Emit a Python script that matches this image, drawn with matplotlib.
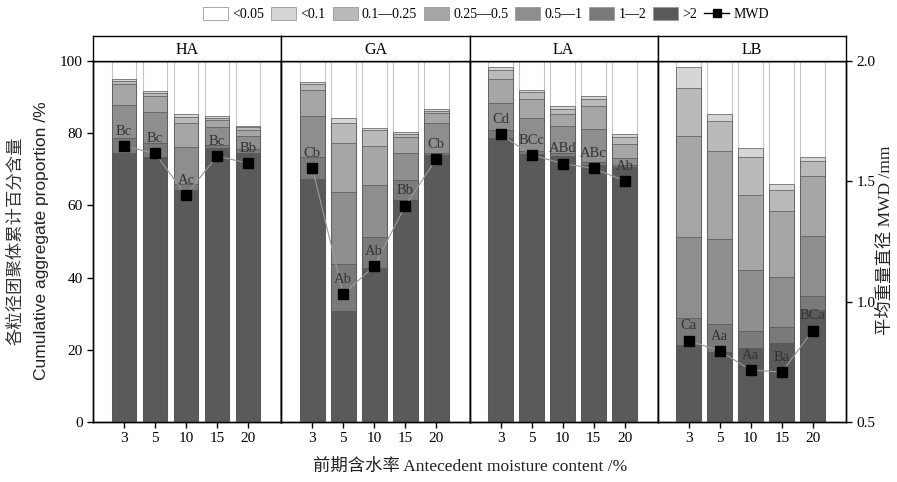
import matplotlib
matplotlib.use('Agg')
import matplotlib.pyplot as plt
from matplotlib.patches import Patch
from matplotlib.lines import Line2D

plt.rcParams['font.family'] = ['Liberation Serif', 'Noto Sans CJK SC']
plt.rcParams['axes.unicode_minus'] = False

# 数据：4个样地 x 5个前期含水率，每层为累计百分比的上边界
sites = ['HA', 'GA', 'LA', 'LB']
moisture = ['3', '5', '10', '15', '20']

top_lt01 = [95.0, 91.6, 85.3, 84.9, 82.1,
            94.1, 84.3, 81.5, 80.2, 86.7,
            98.3, 92.1, 87.5, 90.4, 79.8,
            98.2, 85.3, 75.8, 65.9, 73.5]
top_01_025 = [94.5, 91.1, 84.6, 84.3, 81.6,
              93.5, 82.7, 80.9, 79.8, 86.2,
              97.5, 91.3, 86.7, 89.6, 79.0,
              92.4, 83.5, 73.3, 64.4, 72.3]
top_025_05 = [93.5, 90.4, 82.7, 83.7, 80.9,
              92.1, 77.2, 76.5, 79.0, 85.5,
              94.9, 89.4, 85.3, 87.5, 76.9,
              79.2, 75.2, 62.9, 58.5, 68.1]
top_05_1 = [87.8, 85.8, 76.3, 81.8, 79.2,
            84.8, 63.6, 65.7, 74.4, 82.7,
            88.5, 84.1, 82.0, 81.2, 73.0,
            51.2, 50.6, 42.1, 40.1, 51.5]
top_1_2 = [78.6, 77.4, 66.0, 76.7, 75.5,
           73.3, 43.8, 51.3, 67.0, 74.6,
           80.9, 75.0, 74.5, 72.0, 71.2,
           28.7, 27.1, 25.2, 26.2, 34.9]
top_gt2 = [74.6, 73.5, 64.3, 75.8, 74.5,
           67.3, 30.7, 42.7, 61.5, 74.0,
           78.6, 74.2, 73.7, 71.2, 70.5,
           21.3, 19.5, 20.4, 22.0, 31.0]

mwd = [1.647, 1.616, 1.443, 1.605, 1.575,
       1.556, 1.031, 1.148, 1.399, 1.593,
       1.695, 1.610, 1.574, 1.554, 1.502,
       0.838, 0.795, 0.716, 0.707, 0.880]
letters = ['Bc', 'Bc', 'Ac', 'Bc', 'Bb',
           'Cb', 'Ab', 'Ab', 'Bb', 'Cb',
           'Cd', 'BCc', 'ABd', 'ABc', 'Ab',
           'Ca', 'Aa', 'Aa', 'Ba', 'BCa']

legend_labels = ['<0.05', '<0.1', '0.1—0.25', '0.25—0.5', '0.5—1', '1—2', '>2']
colors = ['#ffffff', '#d6d6d6', '#bababa', '#a6a6a6', '#8e8e8e', '#7a7a7a', '#5a5a5a']
layers = [top_lt01, top_01_025, top_025_05, top_05_1, top_1_2, top_gt2]

fig = plt.figure(figsize=(8.97, 4.82), dpi=100)

left, right = 93 / 897, 846 / 897
bottom, top = 1 - 422 / 482, 1 - 61 / 482
strip_h = 25 / 482
pw = (right - left) / 4
x = [1, 2, 3, 4, 5]

for k, site in enumerate(sites):
    ax = fig.add_axes([left + k * pw, bottom, pw, top - bottom])
    sl = slice(k * 5, k * 5 + 5)
    # 白色底柱（<0.05，到100）
    ax.bar(x, [100] * 5, width=0.8, color=colors[0], edgecolor='#c4c4c4', linewidth=0.8, zorder=1)
    for i, lay in enumerate(layers):
        ax.bar(x, lay[sl], width=0.8, color=colors[i + 1], edgecolor='#555555',
               linewidth=0.5, zorder=2 + i)
    ax.set_xlim(0, 6.07)
    ax.set_ylim(0, 100)
    ax.set_xticks(x)
    ax.set_xticklabels(moisture, fontsize=11)
    ax.tick_params(direction='out', length=4, width=1)
    if k == 0:
        ax.set_yticks([0, 20, 40, 60, 80, 100])
        ax.tick_params(axis='y', labelsize=11)
    else:
        ax.set_yticks([])
    for s in ax.spines.values():
        s.set_linewidth(1)

    ax2 = ax.twinx()
    ax2.set_ylim(0.5, 2.0)
    ax2.plot(x, mwd[sl], color='#999999', linewidth=0.8, zorder=10)
    ax2.plot(x, mwd[sl], linestyle='none', marker='s', markersize=7, color='black', zorder=11)
    for xi, yi, t in zip(x, mwd[sl], letters[sl]):
        ax2.annotate(t, (xi, yi), xytext=(0, 6), textcoords='offset points',
                     ha='center', va='bottom', fontsize=10.5, color='#333333', zorder=12)
    if k == 3:
        ax2.set_yticks([0.5, 1.0, 1.5, 2.0])
        ax2.set_yticklabels(['0.5', '1.0', '1.5', '2.0'], fontsize=11)
        ax2.tick_params(direction='out', length=4, width=1)
    else:
        ax2.set_yticks([])
    for s in ax2.spines.values():
        s.set_linewidth(1)

    sax = fig.add_axes([left + k * pw, top, pw, strip_h])
    sax.set_xticks([])
    sax.set_yticks([])
    sax.text(0.5, 0.45, site, ha='center', va='center', fontsize=11.5, transform=sax.transAxes)
    for s in sax.spines.values():
        s.set_linewidth(1)

# 坐标轴标题
fig.text(15 / 897, 0.5, '各粒径团聚体累计百分含量', rotation=90, ha='center', va='center',
         fontsize=12.5, family=['Noto Sans CJK SC'], color='#333333')
fig.text(42 / 897, 0.5, 'Cumulative aggregate proportion /%', rotation=90, ha='center', va='center',
         fontsize=12.5, family=['Liberation Sans'], color='#222222')
fig.text(886 / 897, 1 - 240 / 482, '平均重量直径 MWD /mm', rotation=90, ha='center', va='center',
         fontsize=12.5, color='#222222')
fig.text(470 / 897, 1 - 467 / 482, '前期含水率 Antecedent moisture content /%', ha='center', va='center',
         fontsize=12.5, color='#222222')

# 图例
handles = [Patch(facecolor=c, edgecolor='#999999', linewidth=0.6) for c in colors]
handles.append(Line2D([], [], color='black', marker='s', markersize=6, linewidth=1))
fig.legend(handles, legend_labels + ['MWD'], loc='center', bbox_to_anchor=(0.542, 1 - 14 / 482),
           ncol=8, frameon=False, fontsize=10, handlelength=1.8, handleheight=1.1,
           handletextpad=0.3, columnspacing=0.5)

fig.savefig('out.png', dpi=100)
